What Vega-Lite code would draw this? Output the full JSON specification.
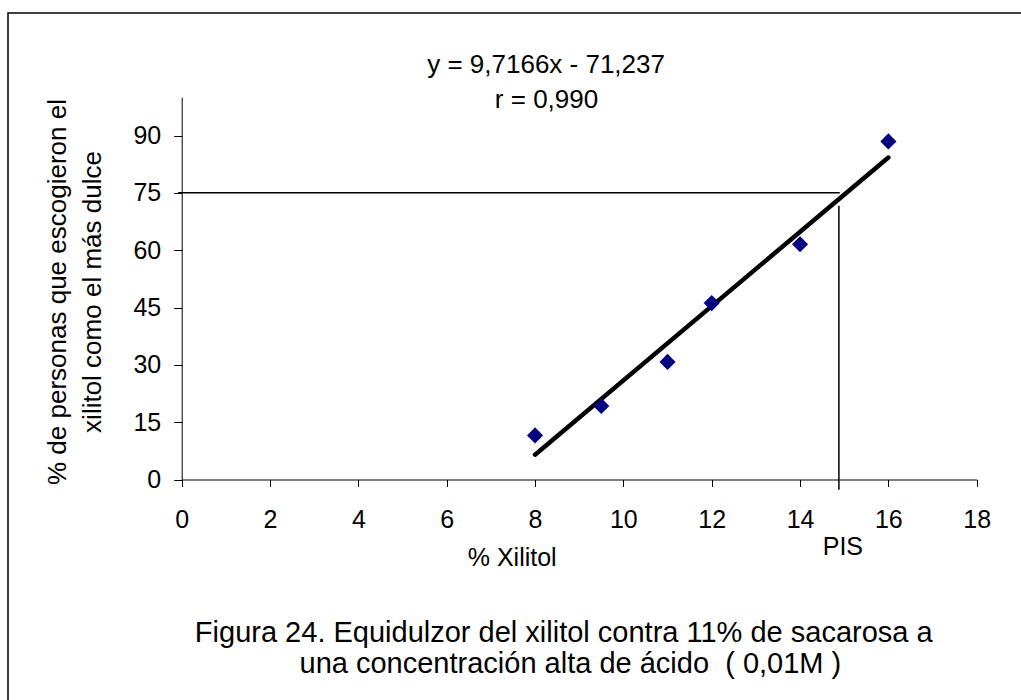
{
  "$schema": "https://vega.github.io/schema/vega-lite/v6.json",
  "width": 1016,
  "height": 690,
  "autosize": {"type": "none"},
  "padding": {"left": 8, "top": 13, "right": -3, "bottom": -3},
  "background": "white",
  "config": {
    "font": "Liberation Sans",
    "view": {"stroke": "black", "strokeWidth": 1.5},
    "axis": {
      "grid": false,
      "domainColor": "black",
      "domainWidth": 1,
      "tickColor": "black",
      "tickWidth": 1,
      "labelColor": "black",
      "labelFont": "Liberation Sans",
      "labelFontSize": 25,
      "labelFlush": false,
      "labelOverlap": false,
      "format": "d",
      "titleColor": "black",
      "titleFont": "Liberation Sans",
      "titleFontWeight": "normal"
    }
  },
  "datasets": {
    "points": [
      {"xilitol": 8, "pct": 11.54},
      {"xilitol": 9.5, "pct": 19.23},
      {"xilitol": 11, "pct": 30.77},
      {"xilitol": 12, "pct": 46.15},
      {"xilitol": 14, "pct": 61.54},
      {"xilitol": 16, "pct": 88.46}
    ],
    "trend": [
      {"xilitol": 8, "pct": 6.496},
      {"xilitol": 16, "pct": 84.229}
    ],
    "one": [{}]
  },
  "layer": [
    {
      "data": {"name": "trend"},
      "mark": {"type": "line", "color": "black", "strokeWidth": 4.5, "strokeCap": "round"},
      "encoding": {
        "x": {"field": "xilitol", "type": "quantitative", "scale": {"domain": [0, 18], "range": [173.7, 968.7], "nice": false, "zero": false},
          "axis": {"values": [0, 2, 4, 6, 8, 10, 12, 14, 16, 18], "format": "d", "orient": "bottom", "offset": -223.5, "tickSize": 7, "labelPadding": 21,
            "title": "% Xilitol", "titleFontSize": 25, "titleX": 503.7, "titleY": 85.5, "titleAlign": "center", "titleBaseline": "alphabetic"}},
        "y": {"field": "pct", "type": "quantitative", "scale": {"domain": [0, 100], "range": [466.5, 84.3], "nice": false, "zero": false},
          "axis": {"values": [0, 15, 30, 45, 60, 75, 90], "format": "d", "orient": "left", "offset": -173.7, "tickSize": 8, "labelPadding": 13,
            "title": ["% de personas que escogieron el", "xilitol como el más dulce"], "titleFontSize": 26, "titleAngle": 270,
            "titleX": -116.7, "titleY": 278.5, "titleAlign": "center", "titleBaseline": "alphabetic", "titleLineHeight": 35}}
      }
    },
    {
      "data": {"name": "points"},
      "mark": {"type": "point", "shape": "diamond", "filled": true, "color": "#000080", "opacity": 1, "size": 260},
      "encoding": {
        "x": {"field": "xilitol", "type": "quantitative"},
        "y": {"field": "pct", "type": "quantitative"}
      }
    },
    {
      "data": {"name": "one"},
      "mark": {"type": "rule", "color": "black", "strokeWidth": 1.5},
      "encoding": {
        "x": {"datum": -0.08, "type": "quantitative"},
        "x2": {"datum": 14.9},
        "y": {"datum": 75, "type": "quantitative"}
      }
    },
    {
      "data": {"name": "one"},
      "mark": {"type": "rule", "color": "black", "strokeWidth": 1.5},
      "encoding": {
        "x": {"datum": 14.88, "type": "quantitative"},
        "y": {"datum": 71.6, "type": "quantitative"},
        "y2": {"datum": -2.7}
      }
    },
    {
      "data": {"name": "one"},
      "mark": {"type": "text", "fontSize": 26, "align": "center", "baseline": "alphabetic", "color": "black"},
      "encoding": {
        "x": {"datum": 8.25, "type": "quantitative"},
        "y": {"datum": 106.4, "type": "quantitative"},
        "text": {"value": "y = 9,7166x - 71,237"}
      }
    },
    {
      "data": {"name": "one"},
      "mark": {"type": "text", "fontSize": 26, "align": "center", "baseline": "alphabetic", "color": "black"},
      "encoding": {
        "x": {"datum": 8.26, "type": "quantitative"},
        "y": {"datum": 97.2, "type": "quantitative"},
        "text": {"value": "r = 0,990"}
      }
    },
    {
      "data": {"name": "one"},
      "mark": {"type": "text", "fontSize": 25, "align": "center", "baseline": "alphabetic", "color": "black"},
      "encoding": {
        "x": {"datum": 14.97, "type": "quantitative"},
        "y": {"datum": -19.75, "type": "quantitative"},
        "text": {"value": "PIS"}
      }
    },
    {
      "data": {"name": "one"},
      "mark": {"type": "text", "fontSize": 29, "align": "center", "baseline": "alphabetic", "color": "black"},
      "encoding": {
        "x": {"datum": 8.65, "type": "quantitative"},
        "y": {"datum": -42.4, "type": "quantitative"},
        "text": {"value": "Figura 24. Equidulzor del xilitol contra 11% de sacarosa a"}
      }
    },
    {
      "data": {"name": "one"},
      "mark": {"type": "text", "fontSize": 29, "align": "center", "baseline": "alphabetic", "color": "black"},
      "encoding": {
        "x": {"datum": 8.8, "type": "quantitative"},
        "y": {"datum": -50.6, "type": "quantitative"},
        "text": {"value": "una concentración alta de ácido\u00a0 ( 0,01M )"}
      }
    }
  ]
}
